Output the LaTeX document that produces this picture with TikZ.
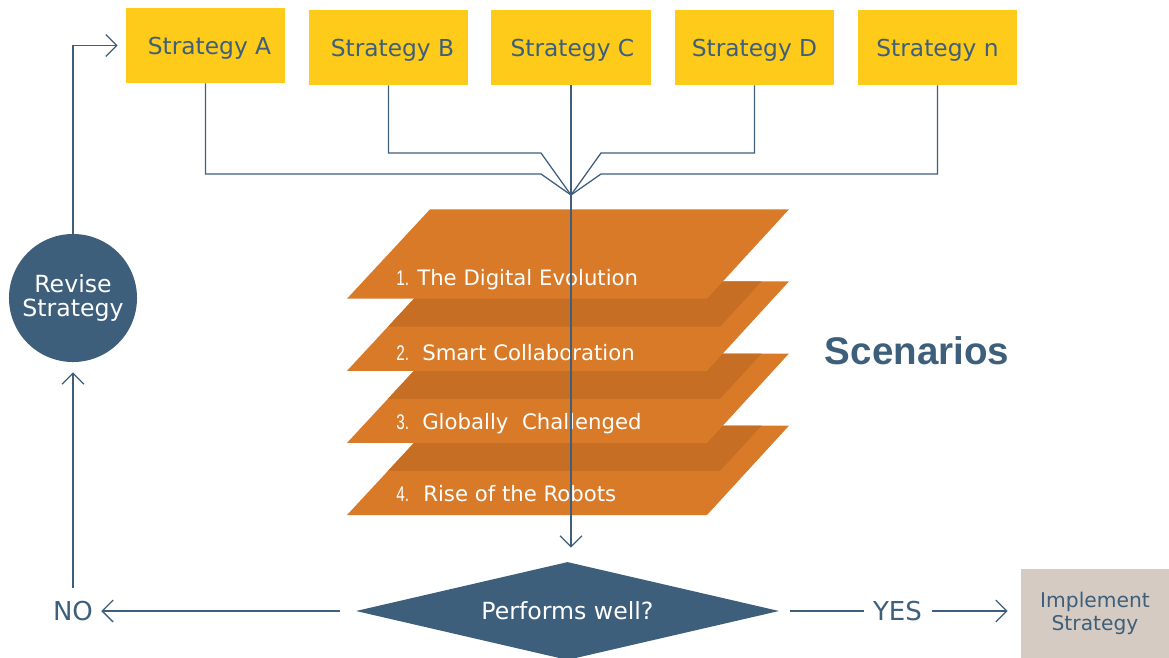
\documentclass[tikz,border=0pt]{standalone}
\usepackage{fontspec}
\setmainfont{DejaVu Sans}
\newfontfamily\headfont{Liberation Sans}
\newfontfamily\numfont{Liberation Sans}
\usetikzlibrary{shapes.geometric, arrows.meta}
\usetikzlibrary{positioning}
\usepackage{xcolor}

\definecolor{stratyellow}{RGB}{254,203,26}
\definecolor{slate}{RGB}{61,95,123}
\definecolor{layerorange}{RGB}{217,122,40}
\definecolor{layershade}{RGB}{197,110,36}
\definecolor{implbeige}{RGB}{214,203,194}

% one scenario sheet, origin on its bottom line
\newcommand{\layerpath}{(347,0) -- (430,-89.4) -- (789,-89.4) -- (707,0) -- cycle}

\tikzset{
  stratbox/.style={fill=stratyellow, text=slate, minimum width=3.975cm, minimum height=1.875cm, inner sep=0pt, text height=12.1pt, text depth=0pt, font=\fontsize{16.6}{20}\selectfont},
  link/.style={draw=slate, line width=0.9pt},
  flow/.style={link, -{Straight Barb[length=7.8pt, width=15.6pt, line width=0.9pt]}},
  layertext/.style={text=white, anchor=base west, inner sep=0pt, font=\fontsize{15.1}{18}\selectfont},
  plaintext/.style={text=slate, inner sep=0pt, font=\fontsize{18.5}{22}\selectfont},
}

\begin{document}
\begin{tikzpicture}[x=0.025cm, y=-0.025cm]

        \useasboundingbox (0,0) rectangle (1169,657);
        \clip (0,0) rectangle (1169,657);

        % scenario sheets, bottom first, each with the shadow of the one above
        \foreach \b in {515, 442.9, 370.8} {
            \fill[layerorange, shift={(0,\b)}] \layerpath;
            \begin{scope}[shift={(0,\b)}]
                \clip \layerpath;
                \fill[layershade, shift={(13,-44.1)}] \layerpath;
            \end{scope}
        }
        \fill[layerorange, shift={(0,298.7)}] \layerpath;

        \node[layertext] (n1) at (396,285) {\numfont\scalebox{0.72}[1]{1.}};
        \node[layertext] (t1) at (417,285) {The Digital Evolution};
        \node[layertext] (n2) at (396,360) {\numfont\scalebox{0.72}[1]{2.}};
        \node[layertext] (t2) at (422,360) {Smart Collaboration};
        \node[layertext] (n3) at (396,429) {\numfont\scalebox{0.72}[1]{3.}};
        \node[layertext] (t3) at (422,429) {Globally~ Challenged};
        \node[layertext] (n4) at (396,501) {\numfont\scalebox{0.72}[1]{4.}};
        \node[layertext] (t4) at (423,501) {Rise of the Robots};

        \node[text=slate, font=\headfont\bfseries\fontsize{27.4}{32}\selectfont] (scen) at (917,351) {Scenarios};

        % strategies
        \node[stratbox] (sA) at (205.5,45.5) {\hspace*{5.7pt}Strategy A};
        \node[stratbox] (sB) at (388.5,47.5) {\hspace*{5.7pt}Strategy B};
        \node[stratbox] (sC) at (571,47.5) {\hspace*{2pt}Strategy C};
        \node[stratbox] (sD) at (754.5,47.5) {Strategy D};
        \node[stratbox] (sN) at (937.5,47.5) {Strategy n};

        \coordinate (join) at (571,195);
        \draw[link] (sA.south) |- (541,174) -- (join);
        \draw[link] (sB.south) |- (541,153) -- (join);
        \draw[link] (sD.south) |- (601,153) -- (join);
        \draw[link] (sN.south) |- (601,174) -- (join);

        % decision
        \node[diamond, aspect=4.3, fill=slate, text=white, minimum width=10.575cm, minimum height=2.45cm, inner sep=0pt, font=\fontsize{16.8}{20}\selectfont] (perf) at (567.5,611) {Performs well?};
        \draw[flow, shorten >=0.35cm] (sC.south) -- (sC.south |- perf.north);

        \node[circle, fill=slate, text=white, minimum size=3.2cm, inner sep=0pt, align=center, font=\fontsize{16.8}{16.4}\selectfont] (rev) at (73,298) {Revise\\Strategy};
        \node[plaintext] (no) at (73,611) {NO};
        \node[plaintext] (yes) at (897.5,611) {YES};
        \node[fill=implbeige, text=slate, minimum width=3.7cm, minimum height=2.225cm, inner sep=0pt, align=center, font=\fontsize{14.4}{16.4}\selectfont] (impl) at (1095,613.5) {Implement\\Strategy};

        \draw[flow, shorten <=0.4cm, shorten >=0.2cm] (perf) -- (no);
        \draw[flow, shorten <=0.31cm, shorten >=0.25cm] (no) -- (rev);
        \draw[flow, shorten >=0.2cm] (rev) |- (sA);
        \draw[link, shorten <=0.275cm, shorten >=0.225cm] (perf) -- (yes);
        \draw[flow, shorten <=0.25cm, shorten >=0.325cm] (yes) -- (yes -| impl.west);

    \end{tikzpicture}
\end{document}
